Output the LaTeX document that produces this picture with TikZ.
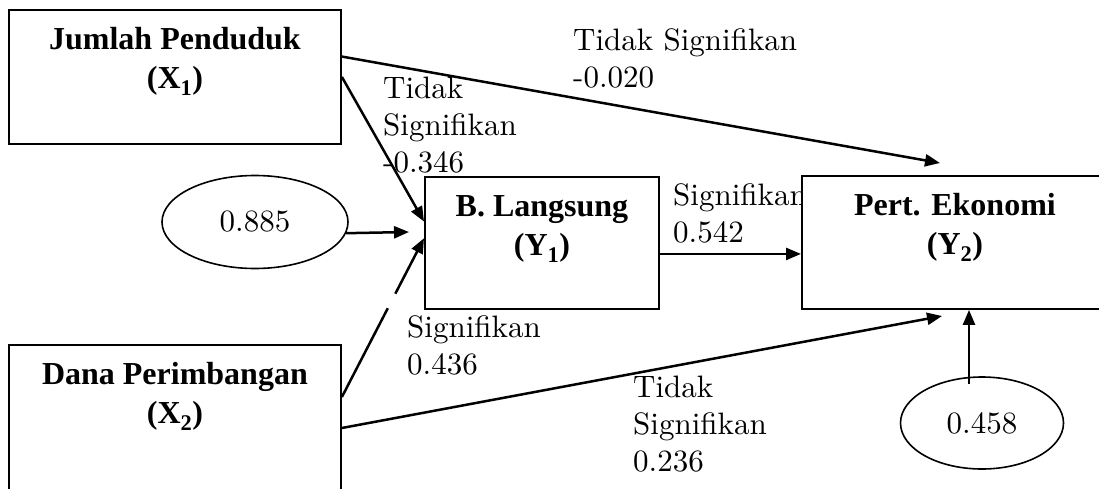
\documentclass[tikz,border=0pt]{standalone}
\usepackage{fontspec}
\newfontfamily\boxfont{Liberation Serif}
\newfontfamily\lblfont{lmroman10-regular.otf}
\usetikzlibrary{arrows.meta,calc,shapes.geometric}
\newcommand\boxtext[3]{\begin{minipage}[t][#1][t]{#2}\centering\boxfont\bfseries\fontsize{32}{39}\selectfont\rule{0pt}{40pt}#3\end{minipage}}
\begin{document}
\begin{tikzpicture}[x=1pt,y=-1pt,
  varbox/.style={draw, line width=1.9pt, fill=white, inner sep=0pt, rectangle, anchor=north west},
  errell/.style={draw, ellipse, line width=1.6pt, inner sep=0pt, fill=white, font=\lblfont\fontsize{31}{37}\selectfont},
  lbl/.style={anchor=north west, inner sep=0pt, align=left, font=\lblfont\fontsize{31}{37}\selectfont},
  conn/.style={line width=2.5pt, -{Triangle[length=15pt,width=12pt]}},
]
\useasboundingbox (0,0) rectangle (1099,489);
\clip (0,0) rectangle (1099,489);

% labels
\node[lbl] (l1) at (573,26) {\rule{0pt}{24pt}Tidak Signifikan\\-0.020};
\node[lbl] (l2) at (383,74) {\rule{0pt}{24pt}Tidak\\Signifikan\\-0.346};
\node[lbl] (l3) at (673,181) {\rule{0pt}{24pt}Signifikan\\0.542};
\node[lbl] (l4) at (407,313) {\rule{0pt}{24pt}Signifikan\\0.436};
\node[lbl] (l5) at (633,373) {\rule{0pt}{24pt}Tidak\\Signifikan\\0.236};

% boxes
\node[varbox] (x1) at (8,9) {\boxtext{134pt}{332pt}{Jumlah Penduduk\\(X\textsubscript{1})}};
\node[varbox] (y1) at (424,176) {\boxtext{132pt}{234pt}{B. Langsung\\(Y\textsubscript{1})}};
\node[varbox] (y2) at (801,175) {\boxtext{133pt}{306pt}{Pert. Ekonomi\\(Y\textsubscript{2})}};
\node[varbox] (x2) at (8,344) {\boxtext{170pt}{332pt}{Dana Perimbangan\\(X\textsubscript{2})}};

% error terms
\node[errell, minimum width=186pt, minimum height=93pt] (e1) at (255,222) {0.885};
\node[errell, minimum width=163pt, minimum height=92pt] (e2) at (982,423) {0.458};

% connector end points
\coordinate (s1) at ($(x1.north east)!0.35!(x1.south east)$);
\coordinate (t1) at (940,163);
\coordinate (t2) at ($(y1.north west)!0.34!(y1.south west)$);
\coordinate (t3) at (409,232);
\coordinate (t4) at ($(y1.north west)!0.465!(y1.south west)$);
\coordinate (s4) at ($(x2.north east)+(0,53)$);
\coordinate (s5) at ($(y1.east)+(0,11)$);
\coordinate (s6) at ($(x2.north east)+(0,84)$);
\coordinate (t6) at (942,316);
\coordinate (s7) at (969,384);

% connectors
\draw[conn] (s1) -- (t1);
\draw[conn] (x1.east) -- (t2);
\draw[conn] (e1.-7) -- (t3);
\draw[conn] (s4) -- (t4);
\draw[white, line width=5pt] ($(s4)!0.56!(t4)$) -- ($(s4)!0.65!(t4)$);
\draw[conn] (s5) -- (s5 -| y2.west);
\draw[conn] (s6) -- (t6);
\draw[conn] (s7) -- (s7 |- y2.south);
\end{tikzpicture}
\end{document}
